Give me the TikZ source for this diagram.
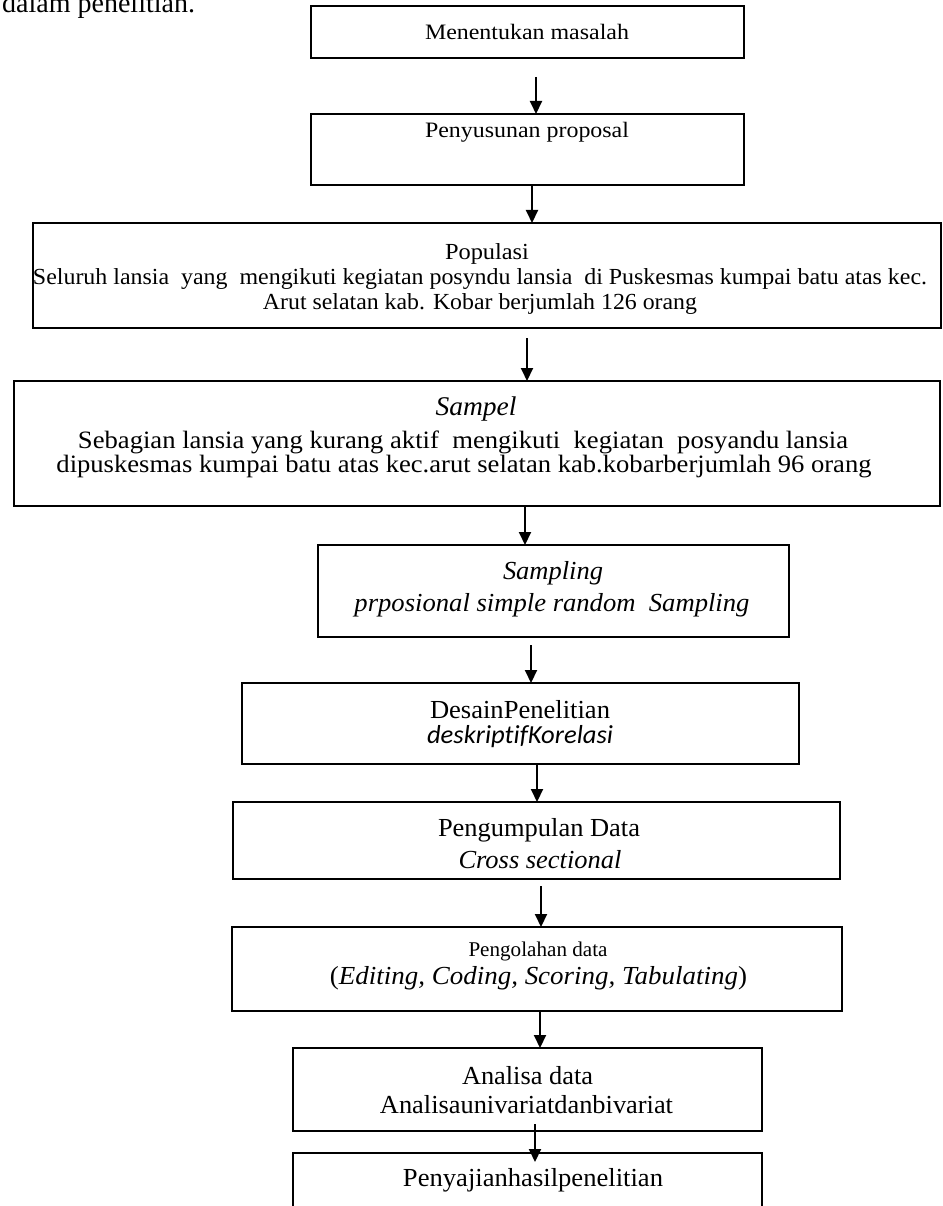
\documentclass[tikz,border=0pt]{standalone}
\usepackage{fontspec}
\setmainfont{Liberation Serif}
\newfontfamily\sansfam[Ligatures=NoCommon]{Carlito}
\usepackage{graphicx}
\usetikzlibrary{arrows.meta}
\newcommand{\fitw}[2]{\resizebox{#1pt}{\height}{#2}}
\newcommand{\fs}[1]{\fontsize{#1}{#1}\selectfont}
\begin{document}
\begin{tikzpicture}[x=1pt,y=-1pt,
  box/.style={draw=black, line width=1.8pt, inner sep=0pt, outer sep=0pt},
  txt/.style={inner sep=0pt, anchor=center},
  arr/.style={-{Triangle[length=13pt,width=12pt]}, line width=2pt},
]
\useasboundingbox (0,0) rectangle (942,1206);
% boxes
\node[box, minimum width=433pt, minimum height=52pt] (b1) at (527.5,32) {};
\node[box, minimum width=433pt, minimum height=71pt] (b2) at (527.5,149.5) {};
\node[box, minimum width=908pt, minimum height=105pt] (b3) at (487,275.5) {};
\node[box, minimum width=926pt, minimum height=125pt] (b4) at (477,443.5) {};
\node[box, minimum width=471pt, minimum height=92pt] (b5) at (553.5,591) {};
\node[box, minimum width=557pt, minimum height=81pt] (b6) at (520.5,723.5) {};
\node[box, minimum width=607pt, minimum height=77pt] (b7) at (536.5,840.5) {};
\node[box, minimum width=610pt, minimum height=84pt] (b8) at (537,969) {};
\node[box, minimum width=469pt, minimum height=83pt] (b9) at (527.5,1089.5) {};
\node[box, minimum width=469pt, minimum height=55pt] (b10) at (527.5,1180.5) {};
% texts
\node[anchor=base west, inner sep=0pt] (t0) at (2,13) {\fs{28}dalam penelitian.};
\node[txt] (t1) at (527,32) {\fitw{204}{\fs{22}Menentukan masalah}};
\node[txt] (t2) at (527,132) {\fitw{204}{\fs{22}Penyusunan proposal}};
\node[txt] (t3a) at (487,254) {\fitw{84}{\fs{23}Populasi}};
\node[txt] (t3b) at (480,279) {\fitw{894}{\fs{23}Seluruh lansia\ \ yang\ \ mengikuti kegiatan posyndu lansia\ \ di Puskesmas kumpai batu atas kec.}};
\node[txt] (t3c) at (480,304) {\fitw{434}{\fs{23}Arut selatan kab. Kobar berjumlah 126 orang}};
\node[txt] (t4a) at (476,409) {\fitw{81}{\fs{27}\itshape Sampel}};
\node[txt] (t4b) at (463,442) {\fitw{770}{\fs{25}Sebagian lansia yang kurang aktif\ \ mengikuti\ \ kegiatan\ \ posyandu lansia}};
\node[txt] (t4c) at (464,467) {\fitw{815}{\fs{25}dipuskesmas kumpai batu atas kec.arut selatan kab.kobarberjumlah 96 orang}};
\node[txt] (t5a) at (553,573) {\fitw{100}{\fs{26}\itshape Sampling}};
\node[txt] (t5b) at (552,605) {\fitw{395}{\fs{26}\itshape prposional simple random\ \ Sampling}};
\node[txt] (t6a) at (520,710) {\fitw{180}{\fs{26}DesainPenelitian}};
\node[txt] (t6b) at (520,737) {\fitw{186}{\fs{26}\sansfam\itshape deskriptifKorelasi}};
\node[txt] (t7a) at (539,830) {\fitw{202}{\fs{26}Pengumpulan Data}};
\node[txt] (t7b) at (540,860) {\fitw{163}{\fs{26}\itshape Cross sectional}};
\node[txt] (t8a) at (538,951) {\fitw{139}{\fs{21}Pengolahan data}};
\node[txt] (t8b) at (538.5,978) {\fitw{417}{\fs{26}(\textit{Editing, Coding, Scoring, Tabulating})}};
\node[txt] (t9a) at (527.5,1076) {\fitw{131}{\fs{26}Analisa data}};
\node[txt] (t9b) at (526.5,1105) {\fitw{293}{\fs{26}Analisaunivariatdanbivariat}};
\node[txt] (t10) at (533,1180) {\fitw{260}{\fs{26}Penyajianhasilpenelitian}};
% arrows
\draw[arr, shorten <=19pt] ([xshift=8.5pt]b1.south) -- ([xshift=8.5pt]b1.south |- b2.north);
\draw[arr] ([xshift=4.5pt]b2.south) -- ([xshift=4.5pt]b2.south |- b3.north);
\draw[arr, shorten <=10pt] ([xshift=40pt]b3.south) -- ([xshift=40pt]b3.south |- b4.north);
\draw[arr] ([xshift=48pt]b4.south) -- ([xshift=48pt]b4.south |- b5.north);
\draw[arr, shorten <=8pt] ([xshift=-22.5pt]b5.south) -- ([xshift=-22.5pt]b5.south |- b6.north);
\draw[arr] ([xshift=16.5pt]b6.south) -- ([xshift=16.5pt]b6.south |- b7.north);
\draw[arr, shorten <=7pt] ([xshift=4.5pt]b7.south) -- ([xshift=4.5pt]b7.south |- b8.north);
\draw[arr] ([xshift=3pt]b8.south) -- ([xshift=3pt]b8.south |- b9.north);
\draw[arr, shorten <=-7pt, shorten >=-9pt] ([xshift=7.5pt]b9.south) -- ([xshift=7.5pt]b9.south |- b10.north);
\end{tikzpicture}
\end{document}
